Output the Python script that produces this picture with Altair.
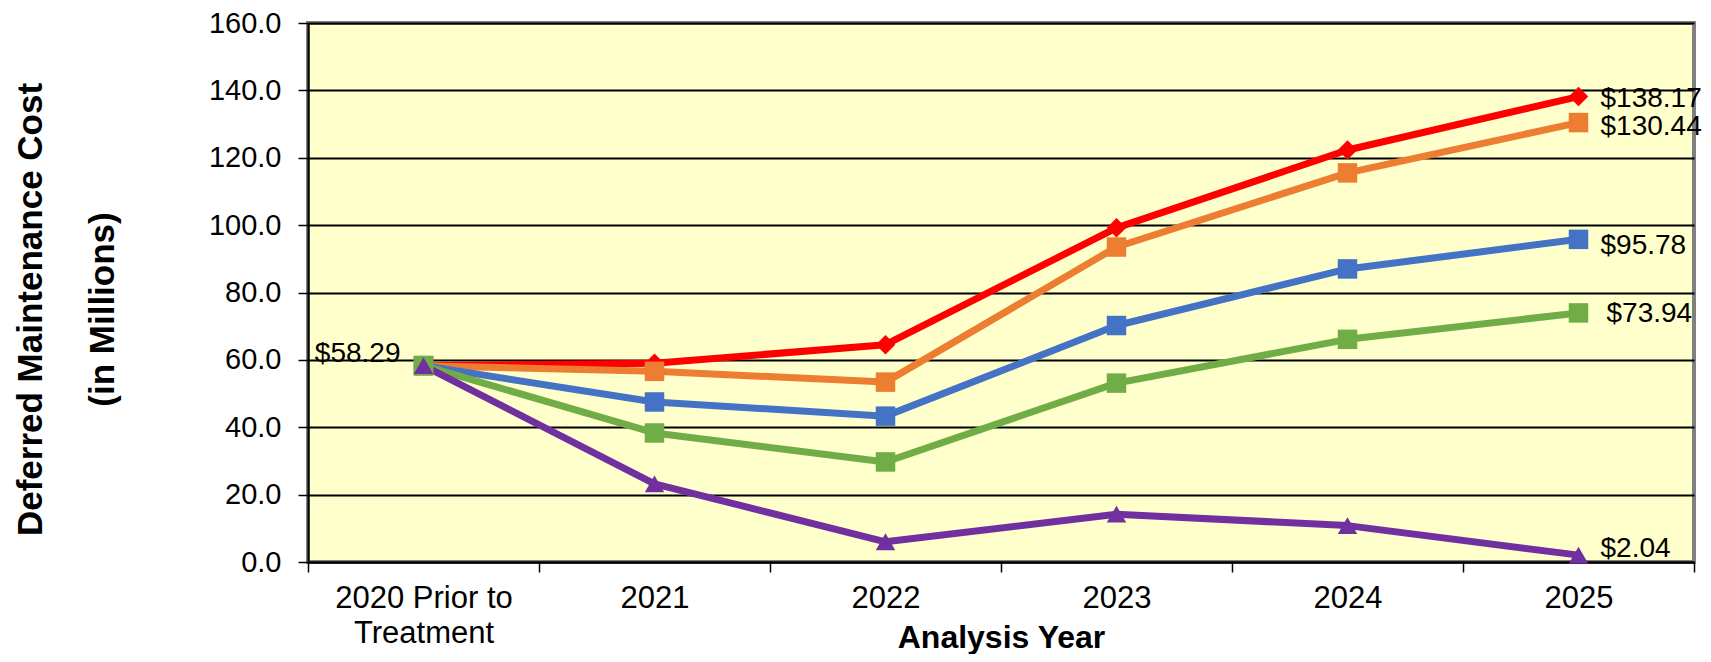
import altair as alt
import pandas as pd

categories = ["2020 Prior to Treatment", "2021", "2022", "2023", "2024", "2025"]
series_names = ["Scenario 1", "Scenario 2", "Scenario 3", "Scenario 4", "Scenario 5"]
red_values = [58.29, 59.0, 64.5, 99.2, 122.3, 138.17]
orange_values = [58.29, 56.6, 53.4, 93.5, 115.5, 130.44]
blue_values = [58.29, 47.5, 43.3, 70.2, 87.0, 95.78]
green_values = [58.29, 38.3, 29.7, 53.1, 66.1, 73.94]
purple_values = [58.29, 23.2, 6.0, 14.2, 10.8, 2.04]
y_ticks = [0, 20, 40, 60, 80, 100, 120, 140, 160]

all_values = [red_values, orange_values, blue_values, green_values, purple_values]
colors = ["#FF0000", "#ED7D31", "#4472C4", "#70AD47", "#7030A0"]
shapes = ["diamond", "square", "square", "square", "triangle-up"]

rows = []
for si, (name, vals) in enumerate(zip(series_names, all_values)):
    for ci, (c, v) in enumerate(zip(categories, vals)):
        rows.append({"year": c, "series": name, "cost": v, "order": si,
                     "label": f"${v:.2f}"})
df = pd.DataFrame(rows)

FONT = "Liberation Sans, Arial, sans-serif"

x_enc = alt.X(
    "year:N", sort=categories, bandPosition=0.5,
    scale=alt.Scale(type="band", paddingInner=0, paddingOuter=0),
    axis=alt.Axis(
        title="Analysis Year", titleFont=FONT, titleFontSize=32, titleFontWeight="bold",
        titleColor="black", titleY=85, titleBaseline="alphabetic",
        labelAngle=0, labelFont=FONT, labelFontSize=31, labelColor="black",
        labelLineHeight=35, labelPadding=11, labelBaseline="top",
        labelExpr="datum.value == '2020 Prior to Treatment' ? ['2020 Prior to', 'Treatment'] : datum.label",
        tickBand="extent", tickSize=10, tickColor="black", tickWidth=1.5,
        domainColor="black", domainWidth=2, grid=False,
    ),
)
y_enc = alt.Y(
    "cost:Q", scale=alt.Scale(domain=[0, 160], nice=False),
    axis=alt.Axis(
        values=y_ticks, format=".1f",
        title=["Deferred Maintenance Cost", "(in Millions)"],
        titleFont="Liberation Sans Narrow, Arial Narrow, Liberation Sans", titleFontSize=35,
        titleFontWeight="bold", titleColor="black", titleAngle=270,
        titleLineHeight=72, titleBaseline="top", titleAlign="center",
        titleX=-295, titleY=286,
        labelFont=FONT, labelFontSize=29, labelColor="black", labelPadding=17,
        tickSize=10, tickColor="black", tickWidth=1.5,
        domainColor="black", domainWidth=2,
        grid=True, gridColor="black", gridWidth=2,
    ),
)
color_enc = alt.Color("series:N", scale=alt.Scale(domain=series_names, range=colors), legend=None)

base = alt.Chart(df)

lines = base.mark_line(strokeWidth=7, strokeJoin="round").encode(
    x=x_enc, y=y_enc, color=color_enc, order="order:Q"
)
points = base.mark_point(filled=True, opacity=1, size=380, strokeWidth=0).encode(
    x=x_enc, y=y_enc, color=color_enc,
    shape=alt.Shape("series:N", scale=alt.Scale(domain=series_names, range=shapes), legend=None),
)

end_offsets = {
    "Scenario 1": (22, 2),
    "Scenario 2": (22, 4),
    "Scenario 3": (22, 7),
    "Scenario 4": (28, 1),
    "Scenario 5": (22, -6),
}
layers = [lines, points]
for name in series_names:
    dx, dy = end_offsets[name]
    layers.append(
        base.transform_filter(
            (alt.datum.series == name) & (alt.datum.year == categories[-1])
        ).mark_text(align="left", baseline="middle", dx=dx, dy=dy, font=FONT,
                    fontSize=28, color="black").encode(x=x_enc, y=y_enc, text="label:N")
    )
layers.append(
    base.transform_filter(
        (alt.datum.series == series_names[-1]) & (alt.datum.year == categories[0])
    ).mark_text(align="right", baseline="middle", dx=-23, dy=-12, font=FONT,
                fontSize=28, color="black").encode(x=x_enc, y=y_enc, text="label:N")
)

chart = alt.layer(*layers).properties(
    width=1386, height=539,
    autosize=alt.AutoSizeParams(type="none"),
    padding={"left": 300, "top": 15, "right": 9, "bottom": 92},
    background="white",
).configure_view(
    fill="#FFFFCC", stroke="#808080", strokeWidth=4
)

chart.save("out.html", embed_options={"renderer": "svg", "actions": False})
